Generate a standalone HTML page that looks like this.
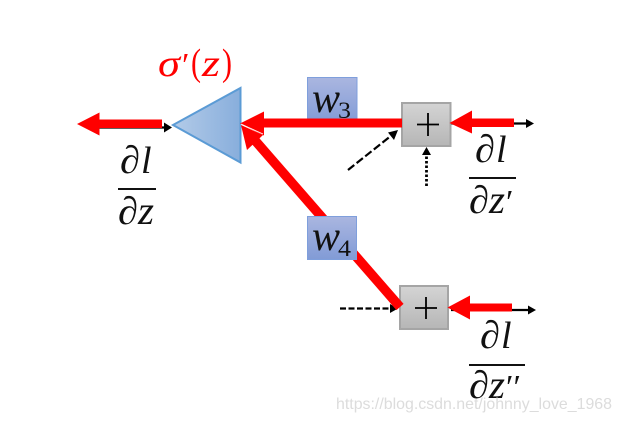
<!DOCTYPE html>
<html><head><meta charset="utf-8">
<style>html,body{margin:0;padding:0;background:#fff;width:621px;height:422px;overflow:hidden}svg{display:block}
text{font-family:"Liberation Serif","DejaVu Serif",serif;font-style:italic;fill:#111}
.d{font-size:39px}
.u{font-style:normal}
.r{fill:#f00}
.wm{font-family:"Liberation Sans",sans-serif;font-style:normal;fill:#dcdcdc}</style></head>
<body>
<svg width="621" height="422" viewBox="0 0 621 422" xmlns="http://www.w3.org/2000/svg">
<defs>
<linearGradient id="t" x1="0" x2="1" y1="0" y2="0"><stop offset="0" stop-color="#b3cbe8"/><stop offset="1" stop-color="#88aedc"/></linearGradient>
<linearGradient id="b" x1="0" x2="0" y1="0" y2="1"><stop offset="0" stop-color="#aab6e0"/><stop offset="1" stop-color="#819bd6"/></linearGradient>
<linearGradient id="g" x1="0" x2="0" y1="0" y2="1"><stop offset="0" stop-color="#d4d4d4"/><stop offset="1" stop-color="#b6b6b6"/></linearGradient>
</defs>

<!-- black thin arrows -->
<path d="M99 127.500H166" stroke="#000" stroke-width="2.200"/><path d="M172 127.500L164 122.500V132.500Z" fill="#000"/>
<path d="M450 123.500H528" stroke="#000" stroke-width="2.200"/><path d="M534 123.500L526 119V128Z" fill="#000"/>
<path d="M451 310H530" stroke="#000" stroke-width="2.200"/><path d="M536 310L528 305.500V314.500Z" fill="#000"/>

<!-- dashed arrows -->
<path d="M348 170L392 135" stroke="#000" stroke-width="2.200" stroke-dasharray="8 3" fill="none"/>
<path d="M398 130L388 132.500L394 140Z" fill="#000"/>
<path d="M426.500 186V153" stroke="#000" stroke-width="2.800" stroke-dasharray="2.500 2" fill="none"/>
<path d="M426.500 147L422 155H431Z" fill="#000"/>
<path d="M340 308.500H392" stroke="#000" stroke-width="2.200" stroke-dasharray="6 2.500" fill="none"/>
<path d="M398 308.500L390 304V313Z" fill="#000"/>

<!-- triangle -->
<path d="M173 125L240.500 88V162.500Z" fill="url(#t)" stroke="#5b9bd5" stroke-width="2" stroke-linejoin="miter"/>

<!-- w3 box -->
<rect x="307.500" y="77.500" width="49.500" height="46" fill="url(#b)" stroke="#7f9fdc" stroke-width="1"/>
<text x="312" y="112" font-size="42" textLength="28" lengthAdjust="spacingAndGlyphs">w</text>
<text x="338" y="118" class="u" font-size="23" textLength="13" lengthAdjust="spacingAndGlyphs">3</text>

<!-- plus boxes -->
<rect x="402" y="103" width="48.500" height="43" fill="url(#g)" stroke="#a5a5a5" stroke-width="2"/>
<rect x="400" y="286" width="48" height="43" fill="url(#g)" stroke="#a5a5a5" stroke-width="2"/>
<path d="M417 124.500H439M428 113V136" stroke="#000" stroke-width="1.800"/>
<path d="M415 308H437M426 297V319" stroke="#000" stroke-width="1.800"/>

<!-- red arrows -->
<path d="M77 124L99.500 112.500V119.500H162V128H99.500V135.500Z" fill="#f00"/>
<path d="M402 118.500H264V111.500L240 123.500L264 135.500V127.500H402Z" fill="#f00"/>
<path d="M449.500 123L472 110.500V118.500H514V127H472V133.500Z" fill="#f00"/>
<path d="M447.500 307.500L470 295.500V303.500H512V311.500H470V319.500Z" fill="#f00"/>
<path d="M400 307L252 137" stroke="#f00" stroke-width="9.500" fill="none"/>
<path d="M241 125L263 135L247 150Z" fill="#f00"/>
<path d="M241 124L263 134" stroke="#fff" stroke-width="0.800"/>

<!-- w4 box -->
<rect x="307.500" y="216.500" width="49" height="43" fill="url(#b)" stroke="#7f9fdc" stroke-width="1"/>
<text x="312" y="250" font-size="42" textLength="28" lengthAdjust="spacingAndGlyphs">w</text>
<text x="338" y="256" class="u" font-size="23" textLength="13" lengthAdjust="spacingAndGlyphs">4</text>

<!-- sigma label -->
<text x="158" y="76" font-size="38" class="r" textLength="22" lengthAdjust="spacingAndGlyphs">σ</text>
<text x="182" y="76" font-size="34" class="r u">′</text>
<text x="191" y="75" font-size="38" class="r u" textLength="10" lengthAdjust="spacingAndGlyphs">(</text>
<text x="202" y="76" font-size="38" class="r" textLength="18" lengthAdjust="spacingAndGlyphs">z</text>
<text x="222" y="75" font-size="38" class="r u" textLength="10" lengthAdjust="spacingAndGlyphs">)</text>

<!-- fractions -->
<text x="120" y="173" class="d" textLength="20" lengthAdjust="spacingAndGlyphs">∂</text>
<text x="141" y="173" font-size="38">l</text>
<rect x="118" y="188" width="38" height="2" fill="#111"/>
<text x="118" y="224" class="d" textLength="20" lengthAdjust="spacingAndGlyphs">∂</text>
<text x="138" y="224" font-size="40" textLength="16" lengthAdjust="spacingAndGlyphs">z</text>

<text x="475" y="162" class="d" textLength="20" lengthAdjust="spacingAndGlyphs">∂</text>
<text x="496" y="162" font-size="38">l</text>
<rect x="469" y="177" width="47" height="2" fill="#111"/>
<text x="469" y="213" class="d" textLength="20" lengthAdjust="spacingAndGlyphs">∂</text>
<text x="489" y="213" font-size="40" textLength="16" lengthAdjust="spacingAndGlyphs">z</text>
<text x="506" y="213" font-size="34" class="u">′</text>

<text x="480" y="348" class="d" textLength="20" lengthAdjust="spacingAndGlyphs">∂</text>
<text x="501" y="348" font-size="38">l</text>
<rect x="469" y="364" width="56" height="2" fill="#111"/>
<text x="469" y="398" class="d" textLength="20" lengthAdjust="spacingAndGlyphs">∂</text>
<text x="489" y="398" font-size="40" textLength="16" lengthAdjust="spacingAndGlyphs">z</text>
<text x="506" y="398" font-size="34" class="u">′′</text>

<!-- watermark -->
<text class="wm" x="336" y="409" font-size="16" textLength="276" lengthAdjust="spacingAndGlyphs">https://blog.csdn.net/johnny_love_1968</text>
</svg>
</body></html>
